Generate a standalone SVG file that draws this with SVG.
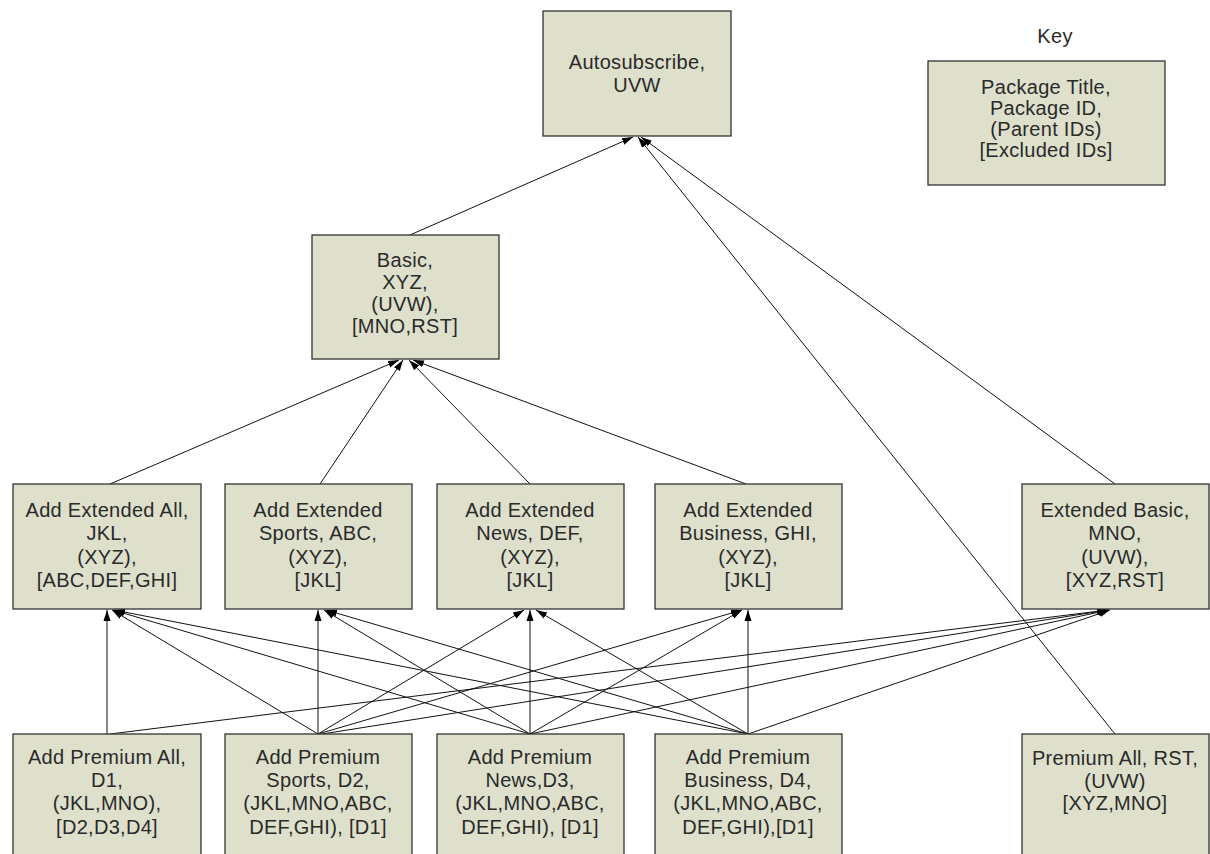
<svg xmlns="http://www.w3.org/2000/svg" width="1210" height="854" viewBox="0 0 1210 854">
<style>
.box{fill:#dee0cc;stroke:#333;stroke-width:1.3}
.t{font-family:"Liberation Sans",Arial,sans-serif;font-size:20px;fill:#2a2a2a;text-anchor:middle;letter-spacing:0.3px}
.c{stroke:#111;stroke-width:1;fill:none;marker-end:url(#ah)}
</style>
<defs>
<marker id="ah" markerUnits="userSpaceOnUse" markerWidth="12" markerHeight="8" refX="11" refY="4" orient="auto">
<path d="M0,0.5 L11,4 L0,7.5 z" fill="#000"/>
</marker>
</defs>
<rect width="1210" height="854" fill="#fff"/>
<g id="connectors">
<line class="c" x1="410" y1="235" x2="633" y2="137"/>
<line class="c" x1="1115" y1="734" x2="638" y2="137"/>
<line class="c" x1="1115" y1="484" x2="641" y2="137"/>
<line class="c" x1="110" y1="484" x2="399" y2="360"/>
<line class="c" x1="320" y1="484" x2="403" y2="360"/>
<line class="c" x1="530" y1="484" x2="409" y2="360"/>
<line class="c" x1="746" y1="484" x2="413" y2="360"/>
<line class="c" x1="107" y1="734" x2="107" y2="610"/>
<line class="c" x1="110" y1="734" x2="1108" y2="610"/>
<line class="c" x1="318" y1="734" x2="112" y2="610"/>
<line class="c" x1="318" y1="734" x2="318" y2="610"/>
<line class="c" x1="318" y1="734" x2="524" y2="610"/>
<line class="c" x1="318" y1="734" x2="742" y2="610"/>
<line class="c" x1="322" y1="734" x2="1108" y2="610"/>
<line class="c" x1="530" y1="734" x2="113" y2="610"/>
<line class="c" x1="530" y1="734" x2="324" y2="610"/>
<line class="c" x1="530" y1="734" x2="530" y2="610"/>
<line class="c" x1="530" y1="734" x2="742" y2="610"/>
<line class="c" x1="530" y1="734" x2="1109" y2="610"/>
<line class="c" x1="748" y1="734" x2="114" y2="610"/>
<line class="c" x1="748" y1="734" x2="326" y2="610"/>
<line class="c" x1="748" y1="734" x2="536" y2="610"/>
<line class="c" x1="748" y1="734" x2="748" y2="610"/>
<line class="c" x1="748" y1="734" x2="1110" y2="610"/>
</g>
<g id="autosubscribe">
<rect class="box" x="543" y="11" width="188" height="125"/>
<text class="t" x="637" y="69">Autosubscribe,</text>
<text class="t" x="637" y="92">UVW</text>
</g>
<g id="key">
<text class="t" x="1055" y="43">Key</text>
<rect class="box" x="928" y="61" width="237" height="124"/>
<text class="t" x="1046" y="94">Package Title,</text>
<text class="t" x="1046" y="115">Package ID,</text>
<text class="t" x="1046" y="136">(Parent IDs)</text>
<text class="t" x="1046" y="157">[Excluded IDs]</text>
</g>
<g id="basic">
<rect class="box" x="312" y="235" width="187" height="124"/>
<text class="t" x="405" y="267">Basic,</text>
<text class="t" x="405" y="289">XYZ,</text>
<text class="t" x="405" y="311">(UVW),</text>
<text class="t" x="405" y="333">[MNO,RST]</text>
</g>
<g id="jkl">
<rect class="box" x="13" y="484" width="188" height="125"/>
<text class="t" x="107" y="517">Add Extended All,</text>
<text class="t" x="107" y="540">JKL,</text>
<text class="t" x="107" y="564">(XYZ),</text>
<text class="t" x="107" y="587">[ABC,DEF,GHI]</text>
</g>
<g id="abc">
<rect class="box" x="225" y="484" width="187" height="125"/>
<text class="t" x="318" y="517">Add Extended</text>
<text class="t" x="318" y="540">Sports, ABC,</text>
<text class="t" x="318" y="564">(XYZ),</text>
<text class="t" x="318" y="587">[JKL]</text>
</g>
<g id="def">
<rect class="box" x="437" y="484" width="187" height="125"/>
<text class="t" x="530" y="517">Add Extended</text>
<text class="t" x="530" y="540">News, DEF,</text>
<text class="t" x="530" y="564">(XYZ),</text>
<text class="t" x="530" y="587">[JKL]</text>
</g>
<g id="ghi">
<rect class="box" x="655" y="484" width="187" height="125"/>
<text class="t" x="748" y="517">Add Extended</text>
<text class="t" x="748" y="540">Business, GHI,</text>
<text class="t" x="748" y="564">(XYZ),</text>
<text class="t" x="748" y="587">[JKL]</text>
</g>
<g id="mno">
<rect class="box" x="1022" y="484" width="187" height="125"/>
<text class="t" x="1115" y="517">Extended Basic,</text>
<text class="t" x="1115" y="540">MNO,</text>
<text class="t" x="1115" y="564">(UVW),</text>
<text class="t" x="1115" y="587">[XYZ,RST]</text>
</g>
<g id="d1">
<rect class="box" x="13" y="734" width="188" height="125"/>
<text class="t" x="107" y="764">Add Premium All,</text>
<text class="t" x="107" y="787">D1,</text>
<text class="t" x="107" y="810">(JKL,MNO),</text>
<text class="t" x="107" y="834">[D2,D3,D4]</text>
</g>
<g id="d2">
<rect class="box" x="225" y="734" width="187" height="125"/>
<text class="t" x="318" y="764">Add Premium</text>
<text class="t" x="318" y="787">Sports, D2,</text>
<text class="t" x="318" y="810">(JKL,MNO,ABC,</text>
<text class="t" x="318" y="834">DEF,GHI), [D1]</text>
</g>
<g id="d3">
<rect class="box" x="437" y="734" width="187" height="125"/>
<text class="t" x="530" y="764">Add Premium</text>
<text class="t" x="530" y="787">News,D3,</text>
<text class="t" x="530" y="810">(JKL,MNO,ABC,</text>
<text class="t" x="530" y="834">DEF,GHI), [D1]</text>
</g>
<g id="d4">
<rect class="box" x="655" y="734" width="187" height="125"/>
<text class="t" x="748" y="764">Add Premium</text>
<text class="t" x="748" y="787">Business, D4,</text>
<text class="t" x="748" y="810">(JKL,MNO,ABC,</text>
<text class="t" x="748" y="834">DEF,GHI),[D1]</text>
</g>
<g id="rst">
<rect class="box" x="1022" y="734" width="187" height="125"/>
<text class="t" x="1115" y="765">Premium All, RST,</text>
<text class="t" x="1115" y="788">(UVW)</text>
<text class="t" x="1115" y="810">[XYZ,MNO]</text>
</g>
</svg>
